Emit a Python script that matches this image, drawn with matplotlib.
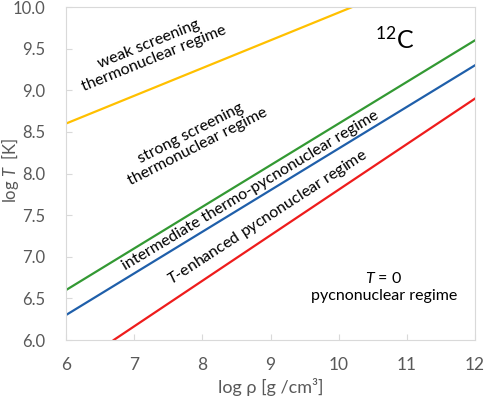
import matplotlib.pyplot as plt

plt.rcParams['font.family'] = ['Lato', 'DejaVu Sans']
plt.rcParams['mathtext.fontset'] = 'custom'
plt.rcParams['mathtext.it'] = 'Lato:italic'
plt.rcParams['mathtext.rm'] = 'Lato'

# boundary lines (log rho, log T)
weak_x = [6, 10.2]
weak_y = [8.6, 10.0]
inter_x = [6, 12]
inter_y = [6.6, 9.6]
tenh_x = [6, 12]
tenh_y = [6.3, 9.3]
pycno_x = [6.7, 12]
pycno_y = [6.0, 8.9]

xticks = [6, 7, 8, 9, 10, 11, 12]
yticks = [6.0, 6.5, 7.0, 7.5, 8.0, 8.5, 9.0, 9.5, 10.0]

fig = plt.figure(figsize=(4.84, 3.98), dpi=100)
ax = fig.add_axes([0.1364, 0.1457, 0.8450, 0.8367])

ax.plot(weak_x, weak_y, color='#FFC000', lw=1.6)
ax.plot(inter_x, inter_y, color='#339933', lw=1.6)
ax.plot(tenh_x, tenh_y, color='#1F5FAA', lw=1.6)
ax.plot(pycno_x, pycno_y, color='#EE1C1C', lw=1.6)

ax.set_xlim(6, 12)
ax.set_ylim(6, 10)
ax.set_xticks(xticks)
ax.set_yticks(yticks)
ax.set_yticklabels([f'{v:.1f}' for v in yticks])
ax.tick_params(axis='x', direction='in', length=4, color='#d9d9d9', labelcolor='#595959', labelsize=12.5, pad=12)
ax.tick_params(axis='y', direction='in', length=4, color='#d9d9d9', labelcolor='#595959', labelsize=12, pad=15)
for s in ax.spines.values():
    s.set_color('#d9d9d9')

ax.set_xlabel('log ρ [g /cm³]', color='#595959', fontsize=13, va='center')
ax.set_ylabel('log $T$  [K]', color='#595959', fontsize=12, va='center')
ax.yaxis.set_label_coords(-0.136, 0.51)
ax.xaxis.set_label_coords(0.5, -0.141)

fs = 11.5
ax.text(7.25, 9.47, 'weak screening\nthermonuclear regime', rotation=22, ha='center', va='center',
        fontsize=fs, linespacing=1.15, rotation_mode='anchor')
ax.text(7.88, 8.40, 'strong screening\nthermonuclear regime', rotation=27, ha='center', va='center',
        fontsize=fs, linespacing=1.15, rotation_mode='anchor')
ax.text(8.71, 7.8, 'intermediate thermo-pycnonuclear regime', rotation=31, ha='center', va='center',
        fontsize=fs, rotation_mode='anchor')
ax.text(8.95, 7.47, '$T$-enhanced pycnonuclear regime', rotation=33, ha='center', va='center',
        fontsize=fs, rotation_mode='anchor')
ax.text(10.82, 9.61, '$^{12}$C', ha='center', va='center', fontsize=18)
ax.text(10.66, 6.64, '$T$ = 0\npycnonuclear regime', ha='center', va='center', fontsize=fs,
        linespacing=1.3)

fig.savefig('out.png', dpi=100)
